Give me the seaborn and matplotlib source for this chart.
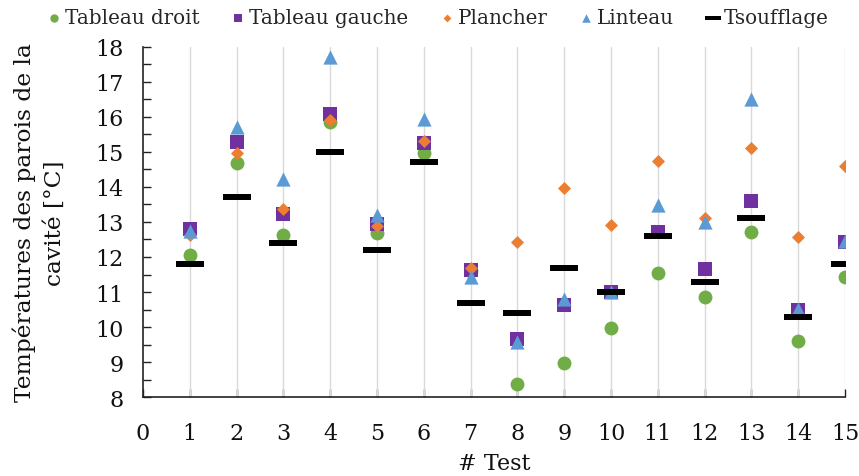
import matplotlib
matplotlib.use("Agg")
import matplotlib.pyplot as plt
import seaborn as sns
import numpy as np
import pandas as pd
from matplotlib.path import Path
from matplotlib.ticker import MultipleLocator

tests = list(range(1, 16))
tableau_droit = [12.05, 14.68, 12.63, 15.87, 12.69, 14.97, 11.6, 8.36, 8.97, 9.98, 11.55, 10.87, 12.72, 9.6, 11.42]
tableau_gauche = [12.8, 15.29, 13.23, 16.08, 12.95, 15.27, 11.62, 9.67, 10.62, 11.0, 12.7, 11.66, 13.6, 10.5, 12.43]
plancher = [12.64, 14.97, 13.37, 15.92, 12.89, 15.31, 11.7, 12.44, 13.98, 12.91, 14.75, 13.12, 15.12, 12.58, 14.6]
linteau = [12.75, 15.72, 14.22, 17.72, 13.2, 15.93, 11.42, 9.56, 10.81, 11.0, 13.49, 13.01, 16.52, 10.52, 12.45]
tsoufflage = [11.8, 13.7, 12.4, 15.0, 12.2, 14.7, 10.7, 10.4, 11.7, 11.0, 12.6, 11.3, 13.1, 10.3, 11.8]

series_names = ["Tableau droit", "Tableau gauche", "Plancher", "Linteau", "Tsoufflage"]
series_values = [tableau_droit, tableau_gauche, plancher, linteau, tsoufflage]

sns.set_theme(style="white")
plt.rcParams['font.family'] = ['DejaVu Serif']
plt.rcParams['mathtext.fontset'] = 'dejavuserif'

fig = plt.figure(figsize=(8.59, 4.77), dpi=100)
ax = fig.add_axes([0.1665, 0.1656, 0.8172, 0.7338])

dash = Path([(-1, -0.21), (1, -0.21), (1, 0.21), (-1, 0.21), (-1, -0.21)],
            [Path.MOVETO, Path.LINETO, Path.LINETO, Path.LINETO, Path.CLOSEPOLY])

styles = [
    dict(marker="o", color="#70AD47", s=100),
    dict(marker="s", color="#7030A0", s=115),
    dict(marker="D", color="#ED7D31", s=44),
    dict(marker="^", color="#5B9BD5", s=105),
    dict(marker=dash, color="black", s=400),
]

for i, (name, vals, st) in enumerate(zip(series_names, series_values, styles)):
    df = pd.DataFrame({"test": tests, "val": vals})
    sns.scatterplot(data=df, x="test", y="val", ax=ax, label=name,
                    marker=st["marker"], color=st["color"], s=st["s"],
                    linewidth=0, zorder=3 + i)

ax.set_xlim(0, 15)
ax.set_ylim(8, 18)
ax.set_xticks(range(0, 16))
ax.yaxis.set_major_locator(MultipleLocator(1))
ax.yaxis.set_minor_locator(MultipleLocator(0.5))
ax.grid(False)
for xv in range(1, 16):
    ax.axvline(xv, color="#D9D9D9", lw=1.0, zorder=1)

for s in ["top", "right"]:
    ax.spines[s].set_visible(False)
for s in ["left", "bottom"]:
    ax.spines[s].set_color("#222222")
    ax.spines[s].set_linewidth(1.2)

ax.tick_params(axis="both", which="both", direction="in", length=6, width=1.0,
               color="#222222", labelsize=16, labelcolor="#111111")
ax.tick_params(axis="x", pad=18, bottom=True)
ax.tick_params(axis="y", which="both", left=True, pad=14)

ax.set_xlabel("# Test", fontsize=16, color="#111111", labelpad=6)
ax.set_ylabel("Températures des parois de la\ncavité [°C]", fontsize=16.8,
              color="#111111", labelpad=21, linespacing=1.45)

leg = ax.legend(loc="lower center", bbox_to_anchor=(0.42, 1.0), ncol=5,
                frameon=False, fontsize=14.3, handletextpad=0.2, handlelength=0.7,
                columnspacing=1.6, markerscale=0.6, borderaxespad=0.6)

fig.savefig("out.png", dpi=100)
